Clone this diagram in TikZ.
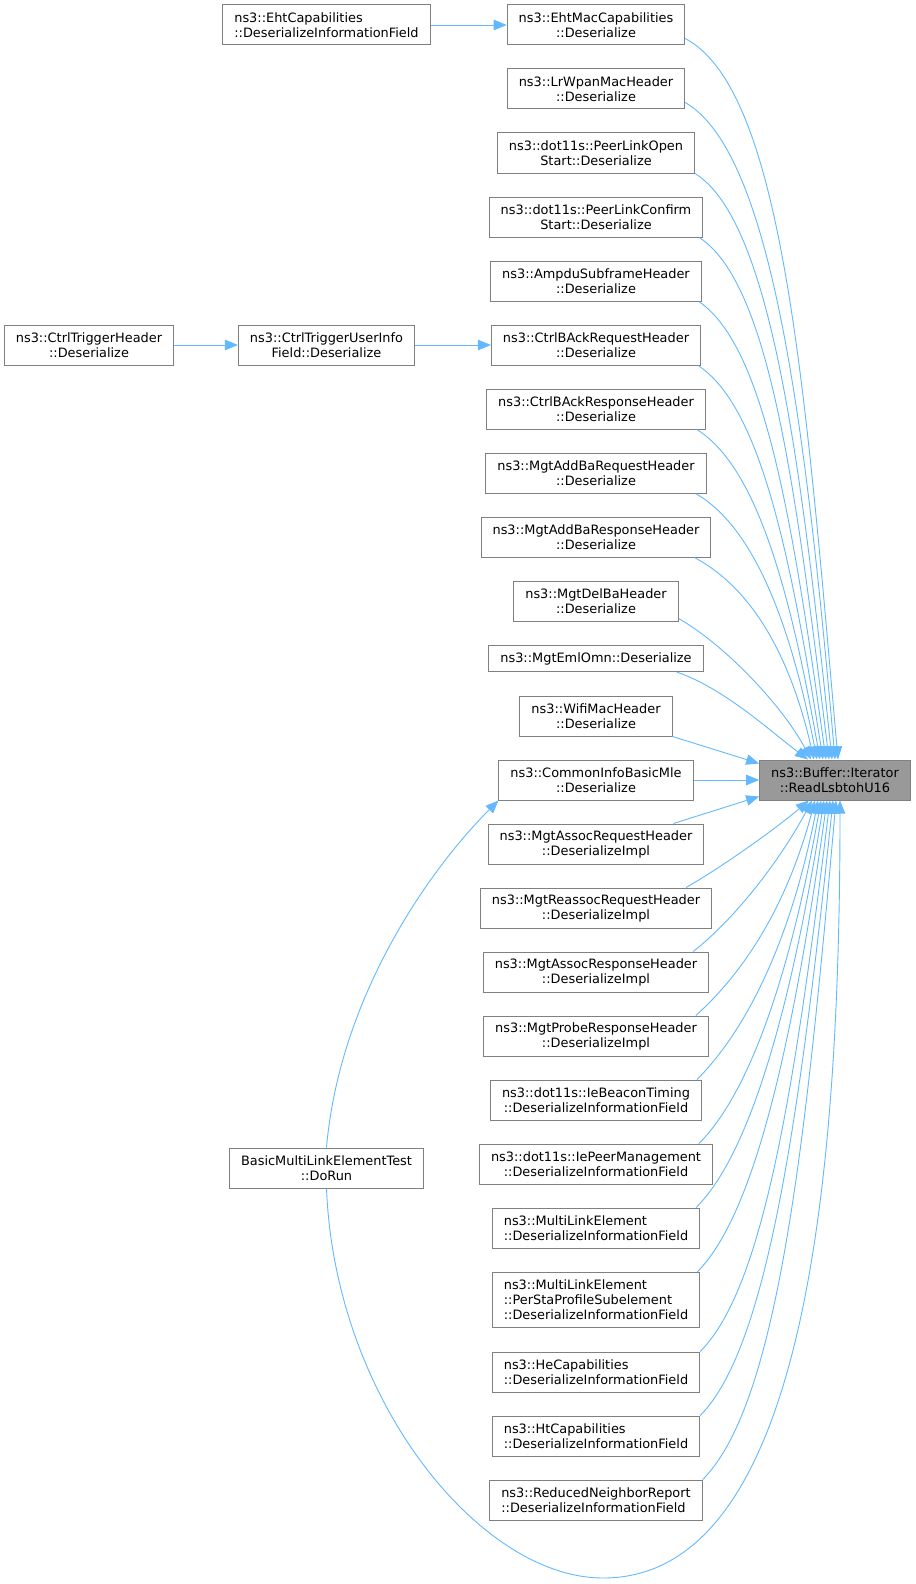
\documentclass[tikz,border=0pt]{standalone}
\usepackage{fontspec}
\setmainfont{DejaVu Sans}
\usetikzlibrary{arrows.meta}
\definecolor{edgeblue}{HTML}{63B8FF}
\definecolor{boxline}{HTML}{808080}
\definecolor{hlfill}{HTML}{999999}
\tikzset{
  fnode/.style = {draw=boxline, line width=1bp, fill=white, inner xsep=11.5bp,
    inner ysep=0pt, minimum height=40bp, align=center,
    font=\fontsize{12.9bp}{15bp}\selectfont},
  fn_l/.style = {fnode, align=left},
  fn_h/.style = {fnode, fill=hlfill},
  call/.style = {draw=edgeblue, line width=0.9bp}}
\begin{document}
\begin{tikzpicture}[x=1bp, y=1bp, ->, >={Triangle[length=13bp, width=10.5bp]}]
\useasboundingbox (0,0) rectangle (915,-1584);

\node [fn_h] (rd) at (835,-780) {ns3::Buffer::Iterator\\::ReadLsbtohU16};

\node [fn_l] (eht) at (326.5,-25) {ns3::EhtCapabilities\\::DeserializeInformationField};
\node [fnode] (thd) at (89,-345) {ns3::CtrlTriggerHeader\\::Deserialize};
\node [fnode] (tui) at (326.5,-345) {ns3::CtrlTriggerUserInfo\\Field::Deserialize};
\node [fnode] (dorun) at (326.5,-1168) {BasicMultiLinkElementTest\\::DoRun};

\node [fnode] (e1) at (596,-25) {ns3::EhtMacCapabilities\\::Deserialize};
\node [fnode] (e2) at (596,-89) {ns3::LrWpanMacHeader\\::Deserialize};
\node [fnode] (e3) at (596,-153) {ns3::dot11s::PeerLinkOpen\\Start::Deserialize};
\node [fnode] (e4) at (596,-217) {ns3::dot11s::PeerLinkConfirm\\Start::Deserialize};
\node [fnode] (e5) at (596,-281) {ns3::AmpduSubframeHeader\\::Deserialize};
\node [fnode] (e6) at (596,-345) {ns3::CtrlBAckRequestHeader\\::Deserialize};
\node [fnode] (e7) at (596,-409) {ns3::CtrlBAckResponseHeader\\::Deserialize};
\node [fnode] (e8) at (596,-473) {ns3::MgtAddBaRequestHeader\\::Deserialize};
\node [fnode] (e9) at (596,-537) {ns3::MgtAddBaResponseHeader\\::Deserialize};
\node [fnode] (e10) at (596,-601) {ns3::MgtDelBaHeader\\::Deserialize};
\node [fnode, minimum height=26bp] (e11) at (596,-658.5) {ns3::MgtEmlOmn::Deserialize};
\node [fnode] (e12) at (596,-716) {ns3::WifiMacHeader\\::Deserialize};
\node [fnode] (e13) at (596,-780) {ns3::CommonInfoBasicMle\\::Deserialize};
\node [fnode] (e14) at (596,-844) {ns3::MgtAssocRequestHeader\\::DeserializeImpl};
\node [fnode] (e15) at (596,-908) {ns3::MgtReassocRequestHeader\\::DeserializeImpl};
\node [fnode] (e16) at (596,-972) {ns3::MgtAssocResponseHeader\\::DeserializeImpl};
\node [fnode] (e17) at (596,-1036) {ns3::MgtProbeResponseHeader\\::DeserializeImpl};
\node [fnode] (e18) at (596,-1100) {ns3::dot11s::IeBeaconTiming\\::DeserializeInformationField};
\node [fnode] (e19) at (596,-1164) {ns3::dot11s::IePeerManagement\\::DeserializeInformationField};
\node [fn_l] (e20) at (596,-1228) {ns3::MultiLinkElement\\::DeserializeInformationField};
\node [fn_l, minimum height=55bp] (e21) at (596,-1300) {ns3::MultiLinkElement\\::PerStaProfileSubelement\\::DeserializeInformationField};
\node [fn_l] (e22) at (596,-1372) {ns3::HeCapabilities\\::DeserializeInformationField};
\node [fn_l] (e23) at (596,-1436) {ns3::HtCapabilities\\::DeserializeInformationField};
\node [fn_l] (e24) at (596,-1500) {ns3::ReducedNeighborReport\\::DeserializeInformationField};
\coordinate (loopbot) at (603,-1578);

\draw[call] (eht) -- (e1);
\draw[call] (thd) -- (tui);
\draw[call] (tui) -- (e6);
\draw[call] (dorun.north) to[out=85, in=-135, out distance=150bp, in distance=100bp] (e13.south west);
\draw[call] (dorun.south) .. controls (335,-1400) and (480,-1578) .. (loopbot)
  .. controls (800,-1578) and (840,-1200) .. ([xshift=5bp]rd.south);

\draw[call] ([yshift=7bp]e1.south east) to[out=-28, in=95, out distance=110bp, in distance=380bp] ([xshift=3bp]rd.north);
\draw[call] ([yshift=7bp]e2.south east) to[out=-30, in=95, out distance=100bp, in distance=340bp] (rd.north);
\draw[call] (e3.south east) to[out=-32, in=96, out distance=90bp, in distance=300bp] ([xshift=-3bp]rd.north);
\draw[call] ([xshift=-4bp]e4.south east) to[out=-33, in=97, out distance=85bp, in distance=270bp] ([xshift=-6bp]rd.north);
\draw[call] ([xshift=-3bp]e5.south east) to[out=-34, in=98, out distance=80bp, in distance=240bp] ([xshift=-9bp]rd.north);
\draw[call] ([xshift=-3bp]e6.south east) to[out=-33, in=99, out distance=75bp, in distance=205bp] ([xshift=-12bp]rd.north);
\draw[call] ([xshift=-9bp]e7.south east) to[out=-32, in=100, out distance=70bp, in distance=175bp] ([xshift=-15bp]rd.north);
\draw[call] ([xshift=-11bp]e8.south east) to[out=-30, in=101, out distance=65bp, in distance=145bp] ([xshift=-18bp]rd.north);
\draw[call] ([xshift=-17bp]e9.south east) to[out=-28, in=103, out distance=60bp, in distance=115bp] ([xshift=-21bp]rd.north);
\draw[call] ([yshift=3bp]e10.south east) to[out=-30, in=118, out distance=55bp, in distance=60bp] ([xshift=-24bp]rd.north);
\draw[call] ([xshift=-27bp]e11.south east) to[out=-19, in=143, out distance=50bp, in distance=50bp] ([xshift=-27bp]rd.north);
\draw[call] (e12.south east) -- ([yshift=-4bp]rd.north west);
\draw[call] (e13) -- (rd);
\draw[call] ([xshift=-31bp]e14.north east) -- ([yshift=4bp]rd.south west);
\draw[call] ([xshift=-26bp]e15.north east) to[out=30, in=-140, out distance=45bp, in distance=45bp] ([xshift=-26bp]rd.south);
\draw[call] ([xshift=-16bp]e16.north east) to[out=38, in=-118, out distance=55bp, in distance=65bp] ([xshift=-23bp]rd.south);
\draw[call] ([xshift=-13bp]e17.north east) to[out=42, in=-105, out distance=60bp, in distance=115bp] ([xshift=-20bp]rd.south);
\draw[call] ([xshift=-5bp]e18.north east) to[out=45, in=-101, out distance=65bp, in distance=150bp] ([xshift=-17bp]rd.south);
\draw[call] ([xshift=-14bp]e19.north east) to[out=45, in=-100, out distance=70bp, in distance=180bp] ([xshift=-14bp]rd.south);
\draw[call] ([xshift=-4bp]e20.north east) to[out=45, in=-99, out distance=75bp, in distance=215bp] ([xshift=-11bp]rd.south);
\draw[call] ([xshift=-3bp]e21.north east) to[out=45, in=-98, out distance=80bp, in distance=250bp] ([xshift=-8bp]rd.south);
\draw[call] (e22.north east) to[out=45, in=-97, out distance=90bp, in distance=290bp] ([xshift=-5bp]rd.south);
\draw[call] (e23.north east) to[out=45, in=-96, out distance=95bp, in distance=320bp] ([xshift=-2bp]rd.south);
\draw[call] (e24.north east) to[out=45, in=-95, out distance=105bp, in distance=355bp] ([xshift=1bp]rd.south);
\end{tikzpicture}
\end{document}
